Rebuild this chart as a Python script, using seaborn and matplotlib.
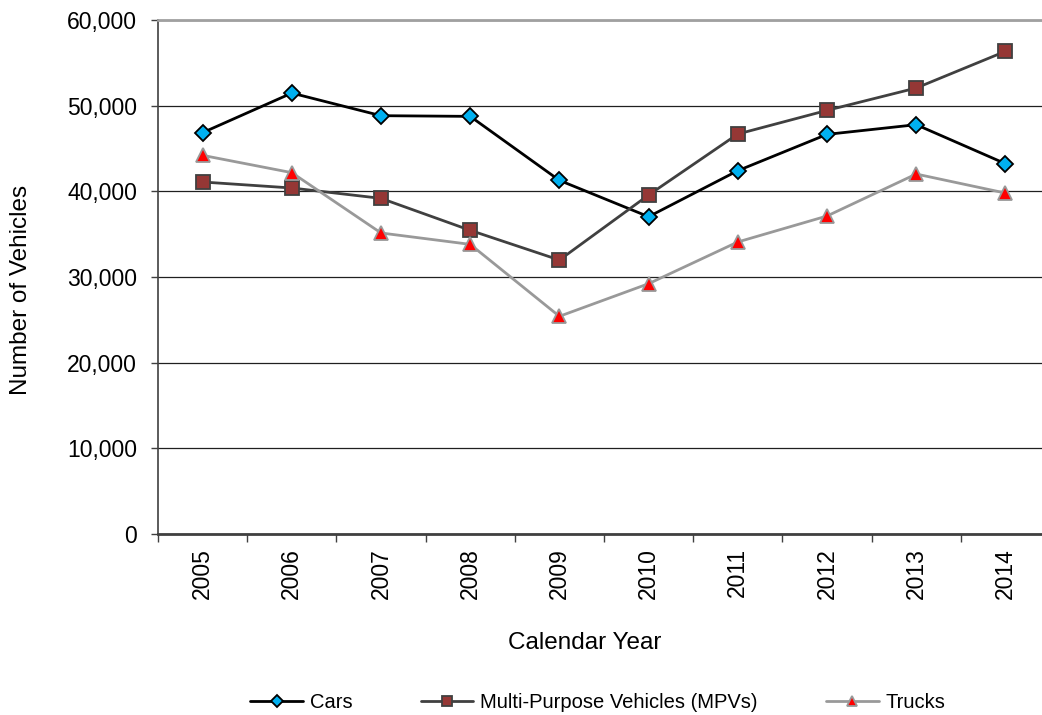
import matplotlib
matplotlib.use("Agg")
import matplotlib.pyplot as plt
import seaborn as sns
import pandas as pd
import numpy as np
from matplotlib.ticker import FixedLocator, FuncFormatter

years = ["2005", "2006", "2007", "2008", "2009", "2010", "2011", "2012", "2013", "2014"]
cars = [46850, 51470, 48830, 48750, 41280, 37040, 42410, 46650, 47780, 43230]
mpvs = [41090, 40390, 39180, 35450, 31980, 39570, 46690, 49450, 52060, 56340]
trucks = [44200, 42180, 35140, 33810, 25410, 29220, 34090, 37120, 42020, 39800]
series_names = ["Cars", "Multi-Purpose Vehicles (MPVs)", "Trucks"]

sns.set_theme(style="white")
plt.rcParams['font.family'] = ['Liberation Sans', 'DejaVu Sans']
plt.rcParams['text.color'] = 'black'
plt.rcParams['axes.labelcolor'] = 'black'
plt.rcParams['xtick.color'] = 'black'
plt.rcParams['ytick.color'] = 'black'

df = pd.DataFrame({
    "Calendar Year": years * 3,
    "Number of Vehicles": cars + mpvs + trucks,
    "Series": [series_names[0]] * 10 + [series_names[1]] * 10 + [series_names[2]] * 10,
})

fig = plt.figure(figsize=(10.42, 7.15), dpi=100)
ax = fig.add_axes([158 / 1042, 1 - 534 / 715, (1050 - 158) / 1042, (534 - 20) / 715])

styles = {
    "Cars": dict(color="black", marker="D", mfc="#00B0F0", mec="black", ms=8, lw=2.0),
    "Multi-Purpose Vehicles (MPVs)": dict(color="#404040", marker="s", mfc="#953735", mec="#404040", ms=10.5, lw=2.0),
    "Trucks": dict(color="#999999", marker="^", mfc="#FF0000", mec="#999999", ms=10, lw=2.0),
}
for name in series_names:
    st = styles[name]
    sub = df[df["Series"] == name]
    sns.lineplot(data=sub, x="Calendar Year", y="Number of Vehicles", ax=ax,
                 color=st["color"], linewidth=st["lw"], marker=st["marker"],
                 markerfacecolor=st["mfc"], markeredgecolor=st["mec"],
                 markeredgewidth=1.3, markersize=st["ms"], label=name, zorder=3)

ax.set_xlim(-0.5, len(years) - 0.5)
ax.set_ylim(0, 60000)
ax.yaxis.set_major_locator(FixedLocator(np.arange(0, 60001, 10000)))
ax.yaxis.set_major_formatter(FuncFormatter(lambda v, p: f"{int(v):,}"))
ax.grid(axis="y", color="#202020", linewidth=0.9)
ax.set_axisbelow(True)

ax.set_xticks(range(len(years)))
ax.set_xticklabels(years, rotation=90, fontsize=16.5)
ax.set_xticks(np.arange(-0.5, len(years)), minor=True)
ax.tick_params(axis="x", which="major", length=0, pad=10)
ax.tick_params(axis="x", which="minor", length=6, width=1, color="#404040", direction="out", bottom=True)
ax.tick_params(axis="y", length=5, width=1, color="#404040", direction="out", left=True, labelsize=16.5, pad=10)

ax.spines["right"].set_visible(False)
ax.spines["top"].set_color("#A0A0A0")
ax.spines["top"].set_linewidth(2)
ax.spines["left"].set_color("#404040")
ax.spines["left"].set_linewidth(1.2)
ax.spines["bottom"].set_color("#404040")
ax.spines["bottom"].set_linewidth(2)

ax.set_xlabel("Calendar Year", fontsize=17.5)
ax.set_ylabel("Number of Vehicles", fontsize=17.5)
ax.xaxis.set_label_coords((585 - 158) / 892, -(643 - 534) / 514)
ax.yaxis.set_label_coords(-(158 - 21) / 892, (534 - 290) / 514)
ax.xaxis.label.set_va("center")
ax.yaxis.label.set_va("center")

ax.legend(loc="center", bbox_to_anchor=(598 / 1042, 1 - 703 / 715), bbox_transform=fig.transFigure,
          ncol=3, frameon=False, fontsize=14.5, handlelength=2.6, columnspacing=3.4,
          handletextpad=0.35, markerscale=0.75)

fig.savefig("out.png", dpi=100)
